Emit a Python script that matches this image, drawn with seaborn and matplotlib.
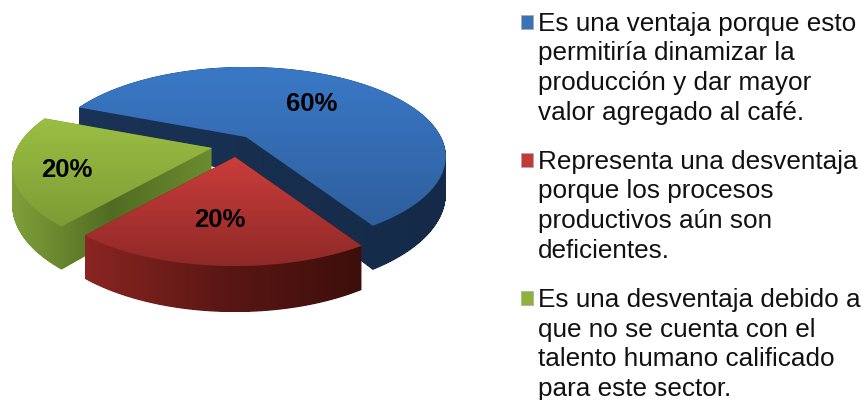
import numpy as np
import matplotlib
matplotlib.use("Agg")
import matplotlib.pyplot as plt
import seaborn as sns
from matplotlib.path import Path
from matplotlib.patches import PathPatch
from matplotlib.transforms import Transform, Affine2D
from matplotlib.colors import LinearSegmentedColormap

sns.set_theme(style="white")
plt.rcParams["font.family"] = ["Liberation Sans", "DejaVu Sans"]

labels = [
    "Es una ventaja porque esto\npermitiría dinamizar la\nproducción y dar mayor\nvalor agregado al café.",
    "Representa una desventaja\nporque los procesos\nproductivos aún son\ndeficientes.",
    "Es una desventaja debido a\nque no se cuenta con el\ntalento humano calificado\npara este sector.",
]
values = [60, 20, 20]
pct_labels = ["60%", "20%", "20%"]
legend_colors = ["#3A72B8", "#C23A38", "#8FB33A"]
top_grad = [["#3A78C6", "#2E5F9E"], ["#CB3D3B", "#8F2927"], ["#9ABF44", "#7D9C34"]]
side_grad = [["#1A3356", "#142A48"], ["#8A2522", "#5A1714", "#3D0E0B"], ["#7FA03A", "#506C22", "#6C8C30"]]
apex_px = [(246, 137), (235, 157), (212, 148)]
label_px = [(312, 104), (220, 220), (67, 170)]
z_orders = [1, 3, 2]


class Persp(Transform):
    input_dims = output_dims = 2

    def __init__(self, z=0.0):
        super().__init__()
        self.z = z

    def transform_non_affine(self, xy):
        xy = np.asarray(xy, float)
        w = 1 + 0.218 * xy[:, 1]
        return np.column_stack([195 * xy[:, 0] / w, (85.3 * xy[:, 1] - 36 * self.z) / w])


def gradient(ax, path, stops, horizontal, z, clip_name):
    clip = PathPatch(path, transform=ax.transData, fc="none", ec="none")
    ax.add_patch(clip)
    cmap = LinearSegmentedColormap.from_list(clip_name, stops)
    ext = path.get_extents()
    arr = np.linspace(0, 1, 256)[None, :] if horizontal else np.linspace(0, 1, 256)[:, None]
    im = ax.imshow(arr, cmap=cmap, aspect="auto", origin="upper",
                   extent=[ext.x0, ext.x1, ext.y1, ext.y0], zorder=z, interpolation="bilinear")
    im.set_clip_path(clip)


fig = plt.figure(figsize=(8.64, 4.0), dpi=100)
ax = fig.add_axes([0, 0, 1, 1])

wedges, _ = ax.pie(values, startangle=158, counterclock=False, colors=legend_colors, radius=1.0, normalize=True)
ax.set_aspect("auto")
ax.axis("off")
flip = Affine2D().scale(1, -1)

for i, w in enumerate(wedges):
    # flatten the wedge finely in its own data units
    fine = Affine2D().scale(2000)
    path = w.get_patch_transform().transform_path(w.get_path())
    verts = path.to_polygons(transform=fine, closed_only=True)[0] / 2000
    w.set_visible(False)
    shift = flip + Affine2D().translate(*apex_px[i])
    layers = [Path((Persp(z) + shift).transform(verts), closed=True) for z in np.linspace(1, 0, 60)]
    sweep = Path.make_compound_path(*layers)
    gradient(ax, sweep, side_grad[i], True, z_orders[i], f"side{i}")
    top = Path((Persp(0) + shift).transform(verts), closed=True)
    gradient(ax, top, top_grad[i], False, z_orders[i] + 0.5, f"top{i}")
    ax.text(*label_px[i], pct_labels[i], fontsize=18.5, fontweight="bold", color="black",
            ha="center", va="center", zorder=10)

ax.set_xlim(0, 864)
ax.set_ylim(400, 0)
handles = [plt.Rectangle((0, 0), 1, 1, fc=c, ec="#AAAAAA", lw=0.5) for c in legend_colors]
leg = ax.legend(handles, labels, loc="upper left", bbox_to_anchor=(521 / 864, 1 - 11.5 / 400), frameon=False,
                fontsize=18.8, handlelength=0.46, handleheight=0.46, handletextpad=0.18,
                labelspacing=0.96, borderaxespad=0, borderpad=0, labelcolor="#111111")
for txt in leg.get_texts():
    txt.set_linespacing(1.3)
for h in leg.get_patches():
    h.set_y(h.get_y() + 33.4)

fig.savefig("out.png", dpi=100)
